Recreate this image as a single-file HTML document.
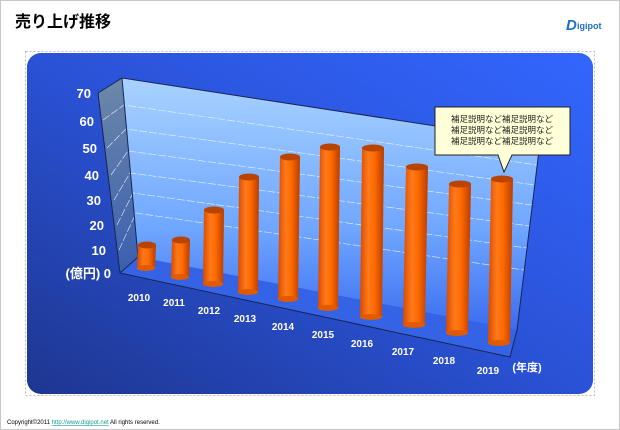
<!DOCTYPE html>
<html><head><meta charset="utf-8"><style>
html,body{margin:0;padding:0;background:#fff;}
body{width:620px;height:430px;overflow:hidden;position:relative;font-family:"Liberation Sans","Noto Sans CJK JP",sans-serif;}
</style></head><body>
<svg width="620" height="430" viewBox="0 0 620 430" xmlns="http://www.w3.org/2000/svg" style="position:absolute;left:0;top:0">
<defs>
<linearGradient id="bg" x1="1" y1="0" x2="0" y2="1">
<stop offset="0" stop-color="#3366ff"/><stop offset="0.5" stop-color="#2a52d6"/><stop offset="1" stop-color="#1e3690"/>
</linearGradient>
<linearGradient id="wall" x1="0" y1="0" x2="0" y2="1">
<stop offset="0" stop-color="#a8d2ff"/><stop offset="0.6" stop-color="#6fa6ff"/><stop offset="1" stop-color="#3c6cf0"/>
</linearGradient>
<linearGradient id="lwall" x1="0" y1="0" x2="0" y2="1">
<stop offset="0" stop-color="#6c88a8"/><stop offset="1" stop-color="#3a5fb0"/>
</linearGradient>
<linearGradient id="cyl" x1="0" y1="0" x2="1" y2="0">
<stop offset="0" stop-color="#d84a00"/><stop offset="0.35" stop-color="#ff7a1a"/><stop offset="0.6" stop-color="#ff6a00"/><stop offset="1" stop-color="#b83c00"/>
</linearGradient>
</defs>
<rect x="0.5" y="0.5" width="619" height="429" fill="#fff" stroke="#c8c8c8"/>
<text x="15" y="27" font-size="16" font-weight="bold" fill="#000">売り上げ推移</text>
<text x="566" y="30" font-size="15" font-weight="bold" fill="#1c6fc4" font-style="italic">D</text>
<text x="577" y="29" font-size="9" font-weight="bold" fill="#1c6fc4">igipot</text>
<rect x="27" y="53" width="566" height="341" rx="14" fill="url(#bg)"/>
<rect x="25.5" y="51.5" width="569" height="344" fill="none" stroke="#bbb" stroke-dasharray="2,2"/>
<polygon points="122,78 540,142 517,330 138,257" fill="url(#wall)"/>
<polygon points="98,93 122,78 138,257 120,273" fill="url(#lwall)"/>
<polygon points="120,273 138,257 517,330 510,357" fill="#3563e6"/>
<g stroke="#e8f2ff" stroke-width="0.7" stroke-dasharray="8,2" fill="none" opacity="0.85">
<polyline points="103,120 124,105 537,165"/>
<polyline points="107,148 126,129 535,185"/>
<polyline points="111,175 128,151 532,205"/>
<polyline points="114,200 130,173 530,226"/>
<polyline points="117,225 133,193 527,248"/>
<polyline points="119,250 136,213 524,270"/>
</g>
<g stroke="#1a2550" stroke-width="1" fill="none">
<polyline points="98,93 122,78 540,142 517,330"/>
<polyline points="98,93 120,273 510,357 517,330"/>
<line x1="122" y1="78" x2="138" y2="257"/>
<line x1="120" y1="273" x2="138" y2="257"/>
</g>
<g>
<g transform="translate(146,0)"><polygon points="-9,268 9,268 10,245 -8,245" fill="url(#cyl)"/><ellipse cx="0" cy="268" rx="9" ry="3" fill="#e05a00"/><ellipse cx="1" cy="245" rx="9" ry="3.5" fill="#b84400"/></g>
<g transform="translate(180,0)"><polygon points="-9,277 9,277 10,240 -8,240" fill="url(#cyl)"/><ellipse cx="0" cy="277" rx="9" ry="3" fill="#e05a00"/><ellipse cx="1" cy="240" rx="9" ry="3.5" fill="#b84400"/></g>
<g transform="translate(213,0)"><polygon points="-10,284 10,284 11,210 -9,210" fill="url(#cyl)"/><ellipse cx="0" cy="284" rx="10" ry="3" fill="#e05a00"/><ellipse cx="1" cy="210" rx="10" ry="3.5" fill="#b84400"/></g>
<g transform="translate(248,0)"><polygon points="-10,292 10,292 11,177 -9,177" fill="url(#cyl)"/><ellipse cx="0" cy="292" rx="10" ry="3" fill="#e05a00"/><ellipse cx="1" cy="177" rx="10" ry="3.5" fill="#b84400"/></g>
<g transform="translate(288,0)"><polygon points="-10,299 10,299 12,157 -8,157" fill="url(#cyl)"/><ellipse cx="0" cy="299" rx="10" ry="3" fill="#e05a00"/><ellipse cx="2" cy="157" rx="10" ry="3.5" fill="#b84400"/></g>
<g transform="translate(328,0)"><polygon points="-10,308 10,308 12,147 -8,147" fill="url(#cyl)"/><ellipse cx="0" cy="308" rx="10" ry="3" fill="#e05a00"/><ellipse cx="2" cy="147" rx="10" ry="3.5" fill="#b84400"/></g>
<g transform="translate(371,0)"><polygon points="-11,317 11,317 13,148 -9,148" fill="url(#cyl)"/><ellipse cx="0" cy="317" rx="11" ry="3" fill="#e05a00"/><ellipse cx="2" cy="148" rx="11" ry="3.5" fill="#b84400"/></g>
<g transform="translate(414,0)"><polygon points="-11,325 11,325 14,167 -8,167" fill="url(#cyl)"/><ellipse cx="0" cy="325" rx="11" ry="3" fill="#e05a00"/><ellipse cx="3" cy="167" rx="11" ry="3.5" fill="#b84400"/></g>
<g transform="translate(457,0)"><polygon points="-11,333 11,333 14,184 -8,184" fill="url(#cyl)"/><ellipse cx="0" cy="333" rx="11" ry="3" fill="#e05a00"/><ellipse cx="3" cy="184" rx="11" ry="3.5" fill="#b84400"/></g>
<g transform="translate(499,0)"><polygon points="-11,343 11,343 14,179 -8,179" fill="url(#cyl)"/><ellipse cx="0" cy="343" rx="11" ry="3" fill="#e05a00"/><ellipse cx="3" cy="179" rx="11" ry="3.5" fill="#b84400"/></g>
</g>
<g fill="#fff" font-weight="bold" font-size="13" text-anchor="end">
<text x="91" y="98">70</text><text x="94" y="126">60</text><text x="97" y="153">50</text>
<text x="99" y="180">40</text><text x="101" y="205">30</text><text x="104" y="230">20</text>
<text x="106" y="255">10</text><text x="111" y="278">(億円) 0</text>
</g>
<g fill="#fff" font-weight="bold" font-size="10" text-anchor="middle">
<text x="139" y="301">2010</text><text x="174" y="306">2011</text><text x="209" y="314">2012</text>
<text x="245" y="322">2013</text><text x="283" y="330">2014</text><text x="323" y="338">2015</text>
<text x="362" y="347">2016</text><text x="403" y="355">2017</text><text x="444" y="364">2018</text>
<text x="488" y="374">2019</text><text x="527" y="371" font-size="11">(年度)</text>
</g>
<path d="M435,107 H570 V155 H512 L504,172 L498,155 H435 Z" fill="#ffffd8" stroke="#222" stroke-width="1"/>
<g font-size="8.5" fill="#222" text-anchor="middle">
<text x="502" y="122">補足説明など補足説明など</text>
<text x="502" y="133">補足説明など補足説明など</text>
<text x="502" y="144">補足説明など補足説明など</text>
</g>
<text x="7" y="424" font-size="6" fill="#000">Copyright©2011 <tspan fill="#1a9a9a" text-decoration="underline">http://www.digipot.net</tspan> All rights reserved.</text>
</svg>
</body></html>
